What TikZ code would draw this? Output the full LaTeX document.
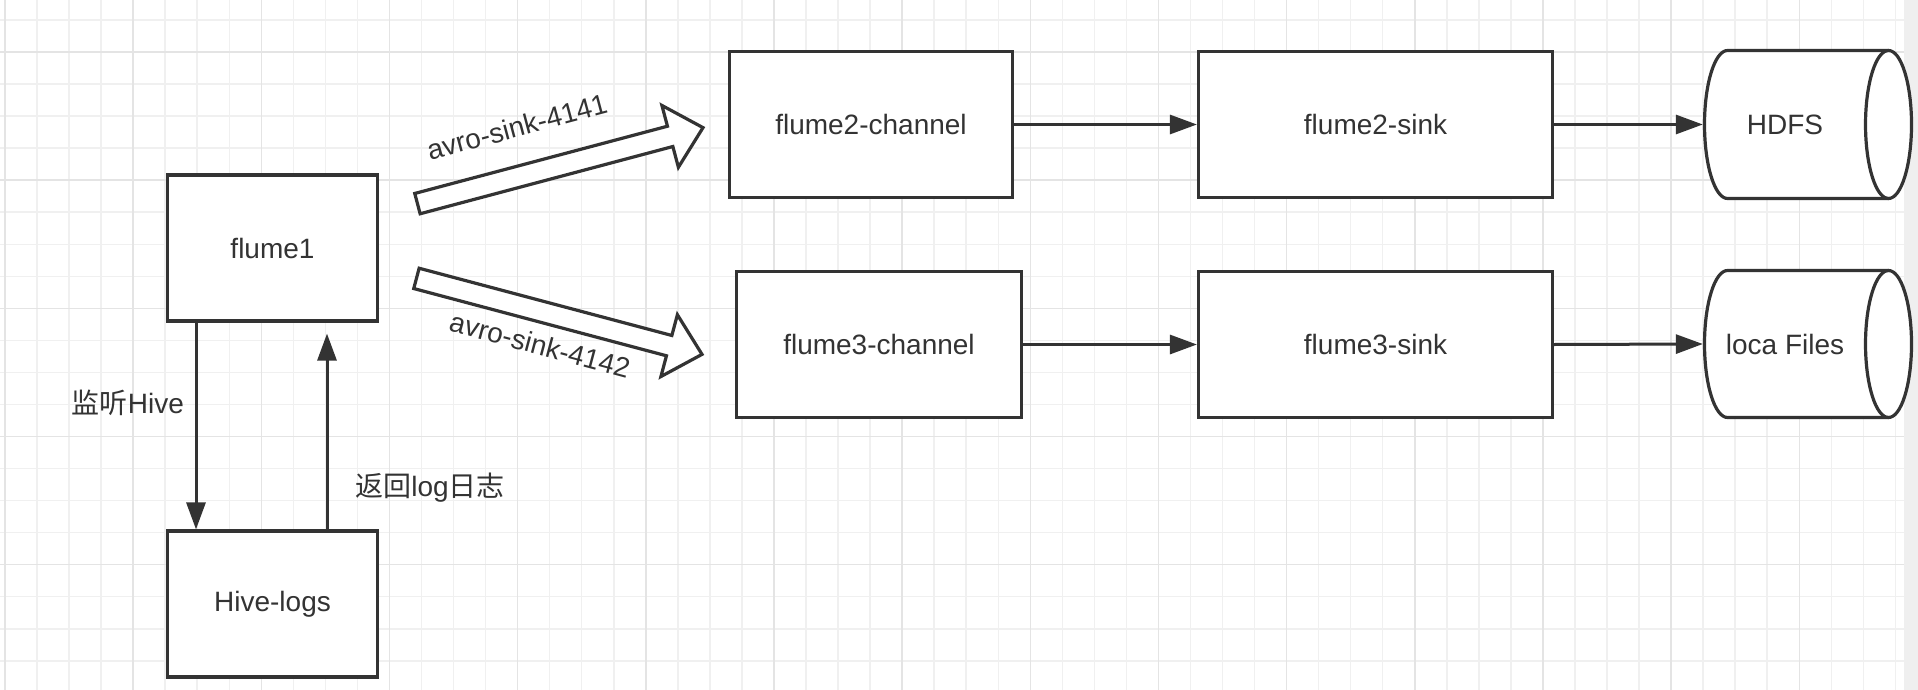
\documentclass[tikz,border=0pt]{standalone}
\usepackage{fontspec}
\setmainfont{Liberation Sans}
\newfontfamily\cjk{Noto Sans CJK SC}
\usetikzlibrary{arrows.meta}
\definecolor{ink}{HTML}{333333}
\definecolor{gridminor}{HTML}{F0F0F0}
\definecolor{gridmajor}{HTML}{E4E4E4}
\definecolor{strip}{HTML}{EFEFEF}
\begin{document}
\begin{tikzpicture}[x=1pt,y=-1pt,
  txt/.style={text=ink, font=\fontsize{28}{34}\selectfont, inner sep=0pt},
  box/.style={draw=ink, line width=3.2pt, fill=white, minimum width=#1, minimum height=146pt, inner sep=0pt, txt},
  dbtext/.style={minimum width=164pt, minimum height=148pt, inner sep=0pt, txt},
  dbline/.style={draw=ink, line width=3.2pt},
  conn/.style={draw=ink, line width=3pt, -{Triangle[length=27pt,width=19pt]}},
  blockarrow/.style={draw=ink, line width=3.2pt, fill=white, line join=miter},
  minor/.style={draw=gridminor, line width=1.5pt},
  major/.style={draw=gridmajor, line width=1.5pt}
]
\useasboundingbox (0,0) rectangle (1918,690);
\fill[white] (0,0) rectangle (1918,690);
\fill[strip] (1904,0) rectangle (1918,690);
% grid
\foreach \i in {0,...,59} { \draw[minor] ({5+32.04*\i},0) -- ({5+32.04*\i},690); }
\foreach \j in {0,...,20} { \draw[minor] (0,{20+32.04*\j}) -- (1904,{20+32.04*\j}); }
\foreach \i in {0,...,14} { \draw[major] ({5+128.16*\i},0) -- ({5+128.16*\i},690); }
\foreach \j in {0,...,4} { \draw[major] (0,{52+128.16*\j}) -- (1904,{52+128.16*\j}); }

% cylinders (drawn directly)
\foreach \cy/\ry in {124.5/74, 344/73.5} {
  \fill[white] (1888.5,\cy-\ry) -- (1727.5,\cy-\ry)
     arc[start angle=90, end angle=270, x radius=23pt, y radius=\ry pt]
     -- (1888.5,\cy+\ry)
     arc[start angle=-90, end angle=90, x radius=23pt, y radius=\ry pt] -- cycle;
  \draw[dbline] (1888.5,\cy-\ry) -- (1727.5,\cy-\ry)
     arc[start angle=90, end angle=270, x radius=23pt, y radius=\ry pt]
     -- (1888.5,\cy+\ry);
  \draw[dbline] (1888.5,\cy) ellipse[x radius=23pt, y radius=\ry pt];
}

% nodes
\node[box=210pt] (flume1) at (272.5,248) {flume1};
\node[box=210pt] (hive) at (272.5,604) {Hive-logs};
\node[box=283pt] (ch2) at (871,124.5) {flume2-channel};
\node[box=354pt] (sk2) at (1375.5,124.5) {flume2-sink};
\node[box=285pt] (ch3) at (879,344.5) {flume3-channel};
\node[box=354pt] (sk3) at (1375.5,344.5) {flume3-sink};
\node[dbtext] (hdfs) at (1785,124.5) {HDFS};
\node[dbtext] (loc) at (1785,344) {loca Files};

% connectors
\draw[conn] (ch2.east) -- (sk2.west);
\draw[conn] (sk2.east) -- (hdfs.west);
\draw[conn] (ch3.east) -- (sk3.west);
\draw[conn] (sk3.east) -- (loc.west);

\coordinate (dn) at (196,0);
\coordinate (up) at (327,0);
\draw[conn] (flume1.south -| dn) -- (hive.north -| dn);
\draw[conn, shorten >=11pt] (hive.north -| up) -- (flume1.south -| up);
\node[txt] (lbl1) at (128,403) {{\cjk 监听}Hive};
\node[txt] (lbl2) at (430,488) {{\cjk 返回}log{\cjk 日志}};

% block arrows
\begin{scope}[shift={(416,204)}, rotate=14.9]
  \coordinate (a1tail) at (0,0);
  \coordinate (a1tip) at (297,0);
  \draw[blockarrow] (1.5,-10.5) -- (263,-10.5) -- (263,-32) -- (297,0) -- (263,32) -- (263,10.5) -- (1.5,10.5) -- cycle;
\end{scope}
\begin{scope}[shift={(415,278)}, rotate=-14.9]
  \coordinate (a2tail) at (0,0);
  \coordinate (a2tip) at (297,0);
  \draw[blockarrow] (1.5,-10.5) -- (263,-10.5) -- (263,-32) -- (297,0) -- (263,32) -- (263,10.5) -- (1.5,10.5) -- cycle;
\end{scope}
\node[txt, rotate=15] (al1) at (517,127) {avro-sink-4141};
\node[txt, rotate=-15] (al2) at (540,345) {avro-sink-4142};
\end{tikzpicture}
\end{document}
